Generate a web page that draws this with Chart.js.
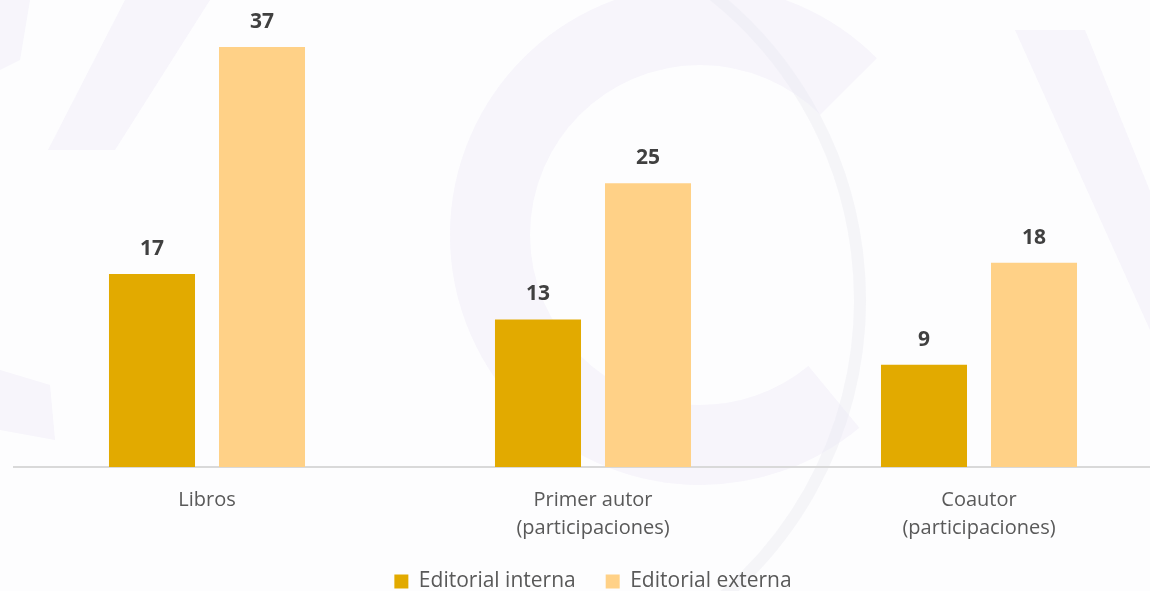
<!DOCTYPE html>
<html>
<head>
<meta charset="utf-8">
<script src="https://cdn.jsdelivr.net/npm/chart.js@4"></script>
<style>
  html, body { margin: 0; padding: 0; background: #ffffff; overflow: hidden; }
  #wrap { position: relative; width: 1150px; height: 591px; overflow: hidden; background: #fdfdfe; }
  #holder { position: absolute; left: 0; top: 0; width: 1194px; height: 602px; }
</style>
</head>
<body>
<div id="wrap"><div id="holder"><canvas id="c"></canvas></div></div>
<script>
const categories = [["Libros"], ["Primer autor", "(participaciones)"], ["Coautor", "(participaciones)"]];
const seriesNames = ["Editorial interna", "Editorial externa"];
const interna = [17, 13, 9];
const externa = [37, 25, 18];
const colors = ["#E2AA00", "#FFD187"];

// faint decorative watermark behind the chart
const watermark = {
  id: 'watermark',
  beforeDraw(chart) {
    const ctx = chart.ctx;
    ctx.save();
    const tint = 'rgba(236,232,248,0.38)';
    ctx.fillStyle = tint;
    ctx.strokeStyle = tint;
    ctx.beginPath();
    ctx.moveTo(125, 0); ctx.lineTo(210, 0); ctx.lineTo(115, 150); ctx.lineTo(48, 150); ctx.closePath(); ctx.fill();
    ctx.beginPath();
    ctx.moveTo(0, 0); ctx.lineTo(30, 0); ctx.lineTo(20, 60); ctx.lineTo(0, 70); ctx.closePath(); ctx.fill();
    ctx.beginPath();
    ctx.moveTo(0, 370); ctx.lineTo(50, 385); ctx.lineTo(55, 440); ctx.lineTo(0, 430); ctx.closePath(); ctx.fill();
    ctx.lineWidth = 80;
    ctx.beginPath();
    ctx.arc(700, 235, 210, Math.PI * 1.75, Math.PI * 0.28, true);
    ctx.stroke();
    ctx.lineWidth = 12;
    ctx.strokeStyle = 'rgba(236,236,242,0.45)';
    ctx.beginPath();
    ctx.arc(470, 300, 390, -Math.PI * 0.42, Math.PI * 0.42, false);
    ctx.stroke();
    ctx.fillStyle = tint;
    ctx.beginPath();
    ctx.moveTo(1015, 30); ctx.lineTo(1085, 30); ctx.lineTo(1194, 300); ctx.lineTo(1150, 330); ctx.closePath(); ctx.fill();
    ctx.restore();
  }
};

const valueLabels = {
  id: 'valueLabels',
  afterDatasetsDraw(chart) {
    const ctx = chart.ctx;
    ctx.save();
    ctx.font = 'bold 21px "Open Sans"';
    ctx.fillStyle = '#404040';
    ctx.textAlign = 'center';
    ctx.textBaseline = 'middle';
    chart.data.datasets.forEach((ds, i) => {
      const meta = chart.getDatasetMeta(i);
      meta.data.forEach((el, j) => {
        ctx.fillText(String(ds.data[j]), el.x, el.y - 25);
      });
    });
    ctx.restore();
  }
};

new Chart(document.getElementById('c'), {
  type: 'bar',
  data: {
    labels: categories,
    datasets: [
      { label: seriesNames[0], data: interna, backgroundColor: colors[0], categoryPercentage: 0.57, barPercentage: 0.782 },
      { label: seriesNames[1], data: externa, backgroundColor: colors[1], categoryPercentage: 0.57, barPercentage: 0.782 }
    ]
  },
  options: {
    responsive: true,
    maintainAspectRatio: false,
    animation: false,
    layout: { padding: { left: 14, right: 22, top: 13, bottom: 0 } },
    plugins: {
      legend: {
        position: 'bottom',
        labels: {
          boxWidth: 14, boxHeight: 14, padding: 30,
          color: '#595959',
          font: { family: '"Open Sans"', size: 21 }
        }
      },
      tooltip: { enabled: false }
    },
    scales: {
      x: {
        grid: { display: false, drawTicks: false },
        border: { display: true, color: '#D9D9D9', width: 2 },
        ticks: { color: '#595959', font: { family: '"Open Sans"', size: 20, lineHeight: 1.4 }, padding: 19, maxRotation: 0 },
        afterFit(scale) { scale.height = 74; }
      },
      y: {
        display: false,
        min: 0, max: 40
      }
    }
  },
  plugins: [watermark, valueLabels]
});
</script>
</body>
</html>
